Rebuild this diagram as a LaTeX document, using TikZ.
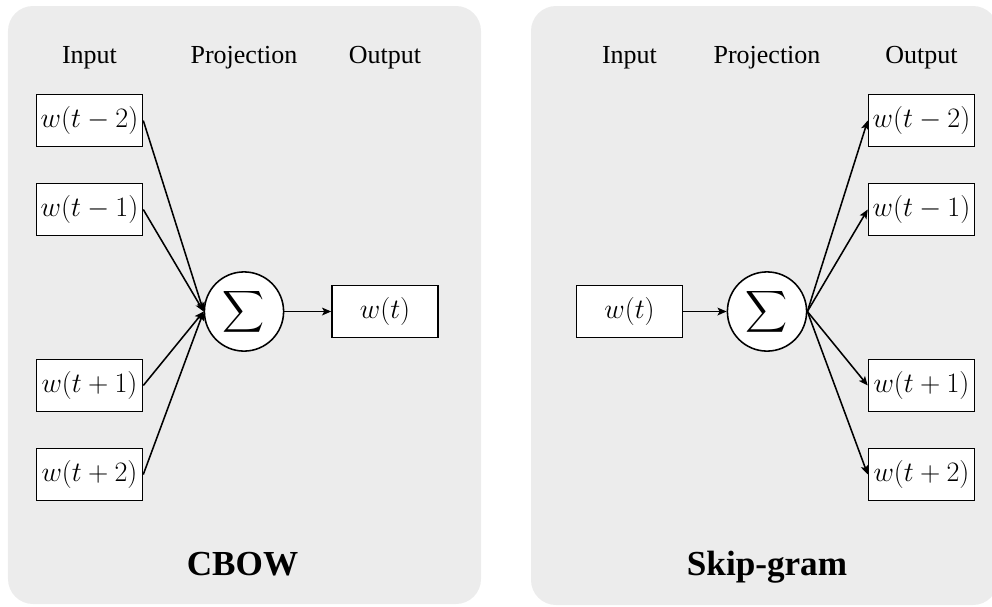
\RequirePackage{fix-cm}
\documentclass[tikz,border=0pt]{standalone}
\usepackage{amsmath}
\usepackage{fontspec}
\setmainfont{Liberation Serif}
\usetikzlibrary{positioning,arrows.meta}
\definecolor{panelgray}{RGB}{236,236,236}

\begin{document}
\begin{tikzpicture}[->,>={Stealth[length=6.5pt,width=5.5pt,inset=1.5pt]},auto,node distance=2.225cm,line width=1.1pt,
                    every node/.style={font=\fontsize{18.5}{22}\selectfont},
                    word/.style={rectangle, draw, fill=white, minimum width=2.65cm, minimum height=1.3cm, inner sep=0pt,
                                 font=\fontsize{20}{24}\selectfont},
                    sumnode/.style={circle, draw, fill=white, minimum size=1.98cm, inner sep=0pt,
                                 font=\fontsize{20}{24}\selectfont},
                    head/.style={anchor=base},
                    title/.style={anchor=base, font=\fontsize{25}{30}\selectfont\bfseries},
                    panel/.style={-, fill=panelgray, draw=none, rounded corners=0.625cm},]
                    \useasboundingbox (0,0) rectangle (24.8,-15.15);
                    \clip (0,0) rectangle (24.8,-15.15);
                    \path[panel] (0.2,-0.15) rectangle (12.025,-15.1);
                    \path[panel] (13.275,-0.15) rectangle (24.95,-15.125);

                    % CBOW
                    \node [head](7) at (2.2375,-1.575){Input};
                    \node [head](8) at (6.1,-1.575){Projection};
                    \node [head](9) at (9.625,-1.575){Output};

                    \node [word](1) at (2.2375,-3.0125){$w(t-2)$};
                    \node [word](2) [below of = 1]{$w(t-1)$};
                    \node [word](3) [below of = 2, yshift = -2.175cm]{$w(t+1)$};
                    \node [word](4) [below of = 3]{$w(t+2)$};
                    \node [sumnode](5) at (6.1,-7.7875){$\displaystyle\sum$};
                    \node [word](6) [right of = 5, xshift = 1.3cm]{$w(t)$};

                    \node [title](10) at (6.0625,-14.375){CBOW};

                    % Skip-gram
                    \node [head](17) at (15.7375,-1.575){Input};
                    \node [head](18) at (19.175,-1.575){Projection};
                    \node [head](19) at (23.0375,-1.575){Output};

                    \node [word](11) at (15.7375,-7.7875){$w(t)$};
                    \node [sumnode](12) [right of = 11, xshift = 1.2125cm]{$\displaystyle\sum$};
                    \node [word](13) at (23.0375,-3.0125){$w(t-2)$};
                    \node [word](14) [below of = 13]{$w(t-1)$};
                    \node [word](15) [below of = 14, yshift = -2.175cm]{$w(t+1)$};
                    \node [word](16) [below of = 15]{$w(t+2)$};

                    \node [title](20) at (19.175,-14.375){Skip-gram};

                    \path
                        (1.east) edge (5.west)
                        (2.east) edge (5.west)
                        (3.east) edge (5.west)
                        (4.east) edge (5.west)
                        (5) edge (6)

                        (11) edge (12)
                        (12.east) edge (13.west)
                        (12.east) edge (14.west)
                        (12.east) edge (15.west)
                        (12.east) edge (16.west)
                    ;

                \end{tikzpicture}
\end{document}
